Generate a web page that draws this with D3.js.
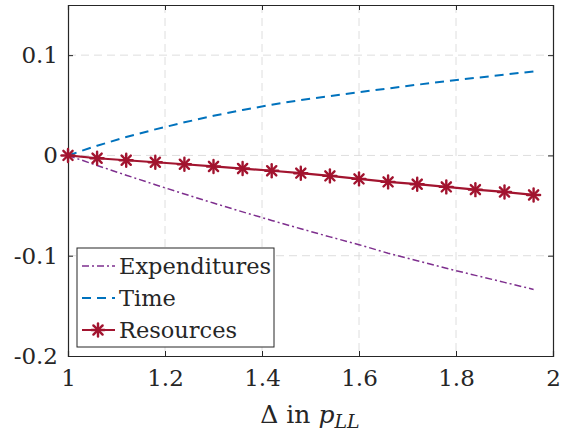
<!DOCTYPE html>
<html>
<head>
<meta charset="utf-8">
<script src="https://cdn.jsdelivr.net/npm/d3@7"></script>
<style>
  body { margin: 0; background: #fff; }
  text { font-family: "DejaVu Serif", serif; fill: #262626; }
</style>
</head>
<body>
<svg id="chart" width="563" height="440"></svg>
<script>
const deltas = [1.00, 1.06, 1.12, 1.18, 1.24, 1.30, 1.36, 1.42, 1.48, 1.54, 1.60, 1.66, 1.72, 1.78, 1.84, 1.90, 1.96];
const expenditures = [0, -0.0100, -0.0197, -0.0292, -0.0385, -0.0475, -0.0563, -0.0648, -0.0731, -0.0812, -0.0890, -0.0975, -0.1050, -0.1125, -0.1196, -0.1266, -0.1336];
const time = [0, 0.0097, 0.0183, 0.0260, 0.0330, 0.0395, 0.0453, 0.0506, 0.0552, 0.0592, 0.0630, 0.0668, 0.0705, 0.0740, 0.0773, 0.0806, 0.0838];
const resources = [0, -0.0028, -0.0048, -0.0068, -0.0088, -0.0110, -0.0131, -0.0153, -0.0177, -0.0204, -0.0234, -0.0264, -0.0287, -0.0314, -0.0341, -0.0364, -0.0394];
const xTicks = [1, 1.2, 1.4, 1.6, 1.8, 2];
const yTicks = [-0.2, -0.1, 0, 0.1];
const seriesNames = ["Expenditures", "Time", "Resources"];

const svg = d3.select("#chart");
const m = { left: 68, right: 553, top: 5, bottom: 356 };

const x = d3.scaleLinear().domain([1, 2]).range([m.left, m.right]);
const y = d3.scaleLinear().domain([-0.2, 0.15]).range([m.bottom, m.top]);

// grid
const grid = svg.append("g").attr("stroke", "#dedede").attr("stroke-width", 1).attr("stroke-dasharray", "8,5");
xTicks.slice(1, -1).forEach(t => {
  grid.append("line").attr("x1", x(t)).attr("x2", x(t)).attr("y1", m.top).attr("y2", m.bottom);
});
yTicks.slice(1).forEach(t => {
  grid.append("line").attr("x1", m.left).attr("x2", m.right).attr("y1", y(t)).attr("y2", y(t));
});

// axes box with inner ticks
const axisColor = "#262626";
const fmt = d => String(d);
svg.append("g").attr("transform", `translate(0,${m.bottom})`)
  .call(d3.axisBottom(x).tickValues(xTicks).tickSize(-5).tickPadding(14).tickFormat(fmt));
svg.append("g").attr("transform", `translate(0,${m.top})`)
  .call(d3.axisTop(x).tickValues(xTicks).tickSize(-5).tickFormat(""));
svg.append("g").attr("transform", `translate(${m.left},0)`)
  .call(d3.axisLeft(y).tickValues(yTicks).tickSize(-5).tickPadding(10).tickFormat(fmt));
svg.append("g").attr("transform", `translate(${m.right},0)`)
  .call(d3.axisRight(y).tickValues(yTicks).tickSize(-5).tickFormat(""));
svg.selectAll(".domain").attr("stroke", axisColor).attr("stroke-width", 1.2);
svg.selectAll(".tick line").attr("stroke", axisColor);
svg.selectAll("g").attr("font-family", null);
svg.selectAll(".tick text").attr("font-size", 23).attr("fill", axisColor);

// lines
const line = d3.line().x(d => x(d[0])).y(d => y(d[1]));
const pts = vals => deltas.map((d, i) => [d, vals[i]]);

const styles = [
  { data: expenditures, color: "#7E2F8E", width: 1.5, dash: "7,3,2,3" },
  { data: time, color: "#0072BD", width: 2, dash: "9,6" },
  { data: resources, color: "#A2142F", width: 2.2, dash: null }
];

styles.forEach(s => {
  svg.append("path").datum(pts(s.data))
    .attr("d", line).attr("fill", "none")
    .attr("stroke", s.color).attr("stroke-width", s.width)
    .attr("stroke-dasharray", s.dash);
});

function star(g, cx, cy, r, color) {
  const mk = g.append("g").attr("transform", `translate(${cx},${cy})`)
    .attr("stroke", color).attr("stroke-width", 2.4).attr("stroke-linecap", "round");
  [0, 45, 90, 135].forEach(a => {
    const rad = a * Math.PI / 180;
    mk.append("line").attr("x1", -r * Math.cos(rad)).attr("y1", -r * Math.sin(rad))
      .attr("x2", r * Math.cos(rad)).attr("y2", r * Math.sin(rad));
  });
}
const markers = svg.append("g");
pts(resources).forEach(d => star(markers, x(d[0]), y(d[1]), 6.5, "#A2142F"));

// legend
const lg = svg.append("g").attr("transform", "translate(77,248)");
lg.append("rect").attr("width", 197).attr("height", 99)
  .attr("fill", "#fff").attr("stroke", axisColor).attr("stroke-width", 1);
styles.forEach((s, i) => {
  const ly = 18 + i * 32;
  lg.append("line").attr("x1", 5).attr("x2", 38).attr("y1", ly).attr("y2", ly)
    .attr("stroke", s.color).attr("stroke-width", s.width).attr("stroke-dasharray", s.dash);
  if (i === 2) star(lg, 21, ly, 6.5, s.color);
  lg.append("text").attr("x", 42).attr("y", ly).attr("dy", "0.35em")
    .attr("font-size", 22.5).text(seriesNames[i]);
});

// x label
const xl = svg.append("text").attr("x", 310).attr("y", 423)
  .attr("text-anchor", "middle").attr("font-size", 25);
xl.append("tspan").text("Δ in ");
xl.append("tspan").attr("font-style", "italic").text("p");
xl.append("tspan").attr("font-style", "italic").attr("font-size", 19).attr("dy", 5).text("LL");
</script>
</body>
</html>
